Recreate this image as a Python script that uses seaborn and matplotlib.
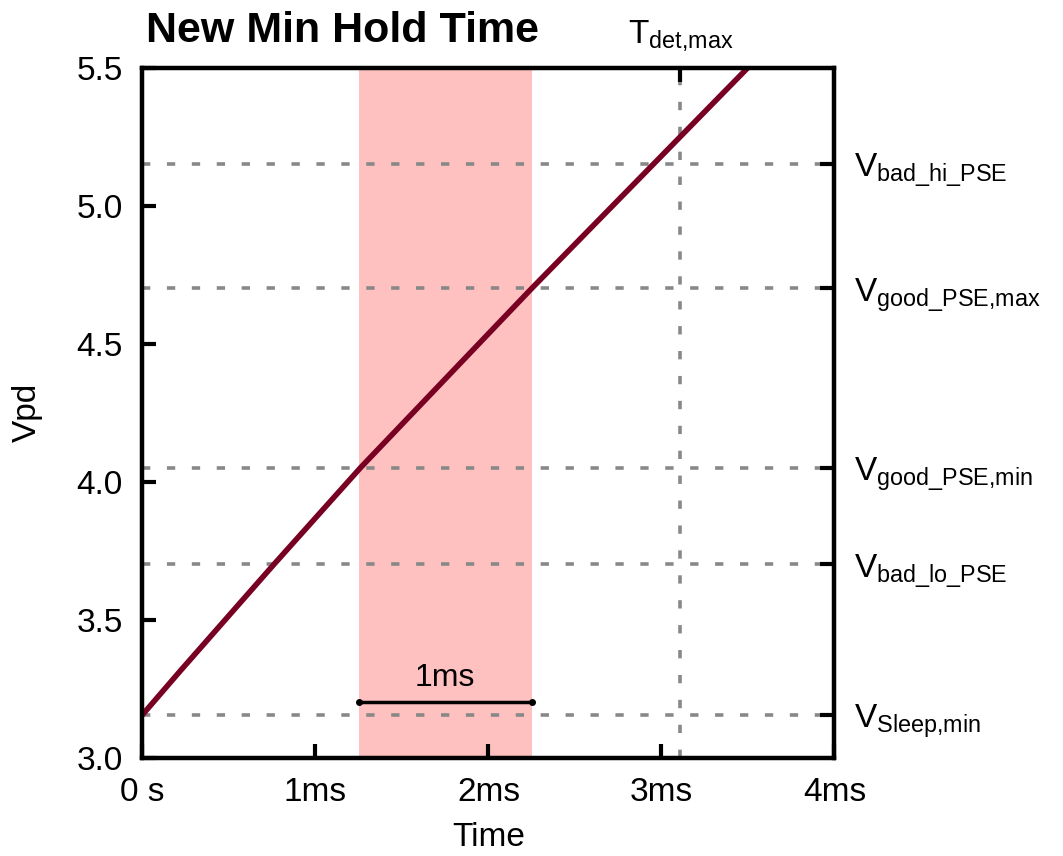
import matplotlib
matplotlib.use("Agg")
import matplotlib.pyplot as plt
import seaborn as sns
import pandas as pd

# data
time_ms = [0.0, 0.22, 0.76, 1.26, 2.25, 3.5]
vpd = [3.155, 3.315, 3.70, 4.05, 4.70, 5.5]

level_values = [3.155, 3.7, 4.05, 4.7, 5.15]
level_labels = [
    r"V$_{\mathregular{Sleep{,}min}}$",
    r"V$_{\mathregular{bad\_lo\_PSE}}$",
    r"V$_{\mathregular{good\_PSE{,}min}}$",
    r"V$_{\mathregular{good\_PSE{,}max}}$",
    r"V$_{\mathregular{bad\_hi\_PSE}}$",
]

t_det_max = 3.11
t_det_label = r"T$_{\mathregular{det{,}max}}$"

hold_start = 1.25
hold_end = 2.25
hold_label = "1ms"
hold_y = 3.2

x_ticks = [0, 1, 2, 3, 4]
x_tick_labels = ["0 s", "1ms", "2ms", "3ms", "4ms"]
y_ticks = [3.0, 3.5, 4.0, 4.5, 5.0, 5.5]

sns.set_style("ticks", {
    "axes.edgecolor": "black",
    "text.color": "black",
    "axes.labelcolor": "black",
    "xtick.color": "black",
    "ytick.color": "black",
})

family = "Liberation Sans"
plt.rcParams["font.family"] = [family, "DejaVu Sans"]
plt.rcParams["mathtext.fontset"] = "custom"
plt.rcParams["mathtext.rm"] = family

df = pd.DataFrame({"Time": time_ms, "Vpd": vpd})

fig, ax = plt.subplots(figsize=(10.63, 8.56), dpi=100)
fig.subplots_adjust(left=0.134, right=0.785, top=0.921, bottom=0.115)

dash = (0, (2.3, 4.6))
grey = "#888888"

# hold window
ax.axvspan(hold_start, hold_end, color="#ffc0c0", lw=0, zorder=0)

# threshold levels
for v in level_values:
    ax.axhline(v, color=grey, ls=dash, lw=2.6, zorder=1)
ax.axvline(t_det_max, color=grey, ls=dash, lw=2.6, zorder=1)

sns.lineplot(data=df, x="Time", y="Vpd", color="#780022", lw=4, ax=ax, zorder=3)

# 1ms marker
ax.plot([hold_start, hold_end], [hold_y, hold_y], color="black", lw=2.5,
        marker="o", ms=4, zorder=4)
ax.text((hold_start + hold_end) / 2, hold_y + 0.035, hold_label,
        ha="center", va="bottom", fontsize=23)

ax.set_xlim(0, 4)
ax.set_ylim(3.0, 5.5)
ax.set_xticks(x_ticks)
ax.set_xticklabels(x_tick_labels)
ax.set_yticks(y_ticks)
ax.tick_params(direction="in", length=10, width=3, labelsize=24, pad=14)

for s in ax.spines.values():
    s.set_linewidth(3)
    s.set_visible(True)

# right axis with level labels
axr = ax.twinx()
axr.set_ylim(ax.get_ylim())
axr.set_yticks(level_values)
axr.set_yticklabels(level_labels)
axr.tick_params(direction="in", length=10, width=3, labelsize=24, pad=14)

# top axis with detection time
axt = ax.twiny()
axt.set_xlim(ax.get_xlim())
axt.set_xticks([t_det_max])
axt.set_xticklabels([t_det_label])
axt.tick_params(direction="in", length=10, width=3, labelsize=24, pad=10)

for a in (axr, axt):
    for s in a.spines.values():
        s.set_linewidth(3)

ax.set_xlabel("Time", fontsize=24, labelpad=10)
ax.set_ylabel("Vpd", fontsize=24, labelpad=24)
fig.text(0.137, 0.94, "New Min Hold Time", fontsize=31, fontweight="bold",
         ha="left", va="bottom")

fig.savefig("out.png", dpi=100)
